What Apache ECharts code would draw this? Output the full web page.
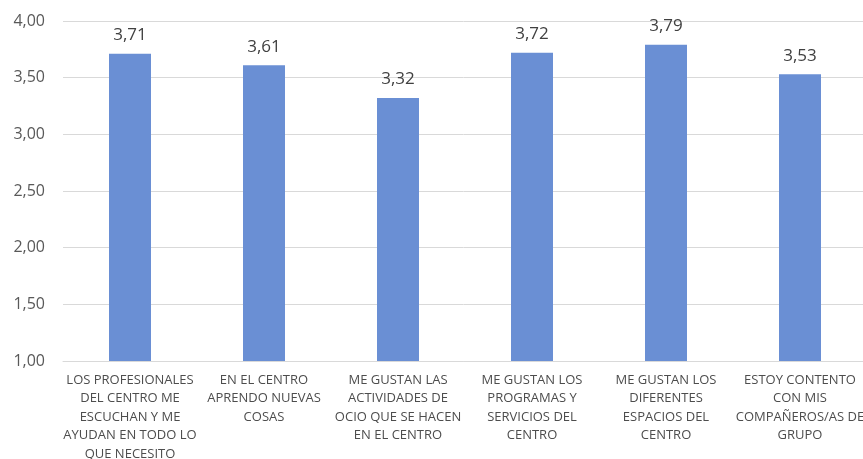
<!DOCTYPE html>
<html><head><meta charset="utf-8">
<script src="https://cdn.jsdelivr.net/npm/echarts@6/dist/echarts.min.js"></script>
<style>html,body{margin:0;padding:0;background:#fff}#c{width:863px;height:459px}</style>
</head><body><div id="c"></div>
<script>
const categories = [
  "LOS PROFESIONALES\nDEL CENTRO ME\nESCUCHAN Y ME\nAYUDAN EN TODO LO\nQUE NECESITO",
  "EN EL CENTRO\nAPRENDO NUEVAS\nCOSAS",
  "ME GUSTAN LAS\nACTIVIDADES DE\nOCIO QUE SE HACEN\nEN EL CENTRO",
  "ME GUSTAN LOS\nPROGRAMAS Y\nSERVICIOS DEL\nCENTRO",
  "ME GUSTAN LOS\nDIFERENTES\nESPACIOS DEL\nCENTRO",
  "ESTOY CONTENTO\nCON MIS\nCOMPAÑEROS/AS DE\nGRUPO"
];
const values = [3.71, 3.61, 3.32, 3.72, 3.79, 3.53];
const yMin = 1, yMax = 4, yStep = 0.5;

const fmt = v => Number(v).toFixed(2).replace('.', ',');
const chart = echarts.init(document.getElementById('c'));
const font = '"Open Sans", "Liberation Sans", sans-serif';
chart.setOption({
  animation: false,
  grid: { left: 63, top: 21, width: 804, height: 340, containLabel: false, outerBoundsMode: 'none' },
  xAxis: {
    type: 'category', data: categories,
    axisLine: { show: true, lineStyle: { color: '#d9d9d9', width: 1 } },
    axisTick: { show: false },
    axisLabel: { interval: 0, color: '#4d4d4d', fontFamily: font, fontSize: 13, lineHeight: 18.5, margin: 10 }
  },
  yAxis: {
    type: 'value', min: yMin, max: yMax, interval: yStep,
    axisLine: { show: false }, axisTick: { show: false },
    splitLine: { lineStyle: { color: '#d9d9d9', width: 1 } },
    axisLabel: { formatter: fmt, color: '#595959', fontFamily: font, fontSize: 16, margin: 18 }
  },
  series: [{
    type: 'bar', data: values, barWidth: 42,
    itemStyle: { color: '#6a8fd4' },
    label: { show: true, position: 'top', distance: 10, formatter: p => fmt(p.value), color: '#404040', fontFamily: font, fontSize: 17 }
  }]
});
</script></body></html>
